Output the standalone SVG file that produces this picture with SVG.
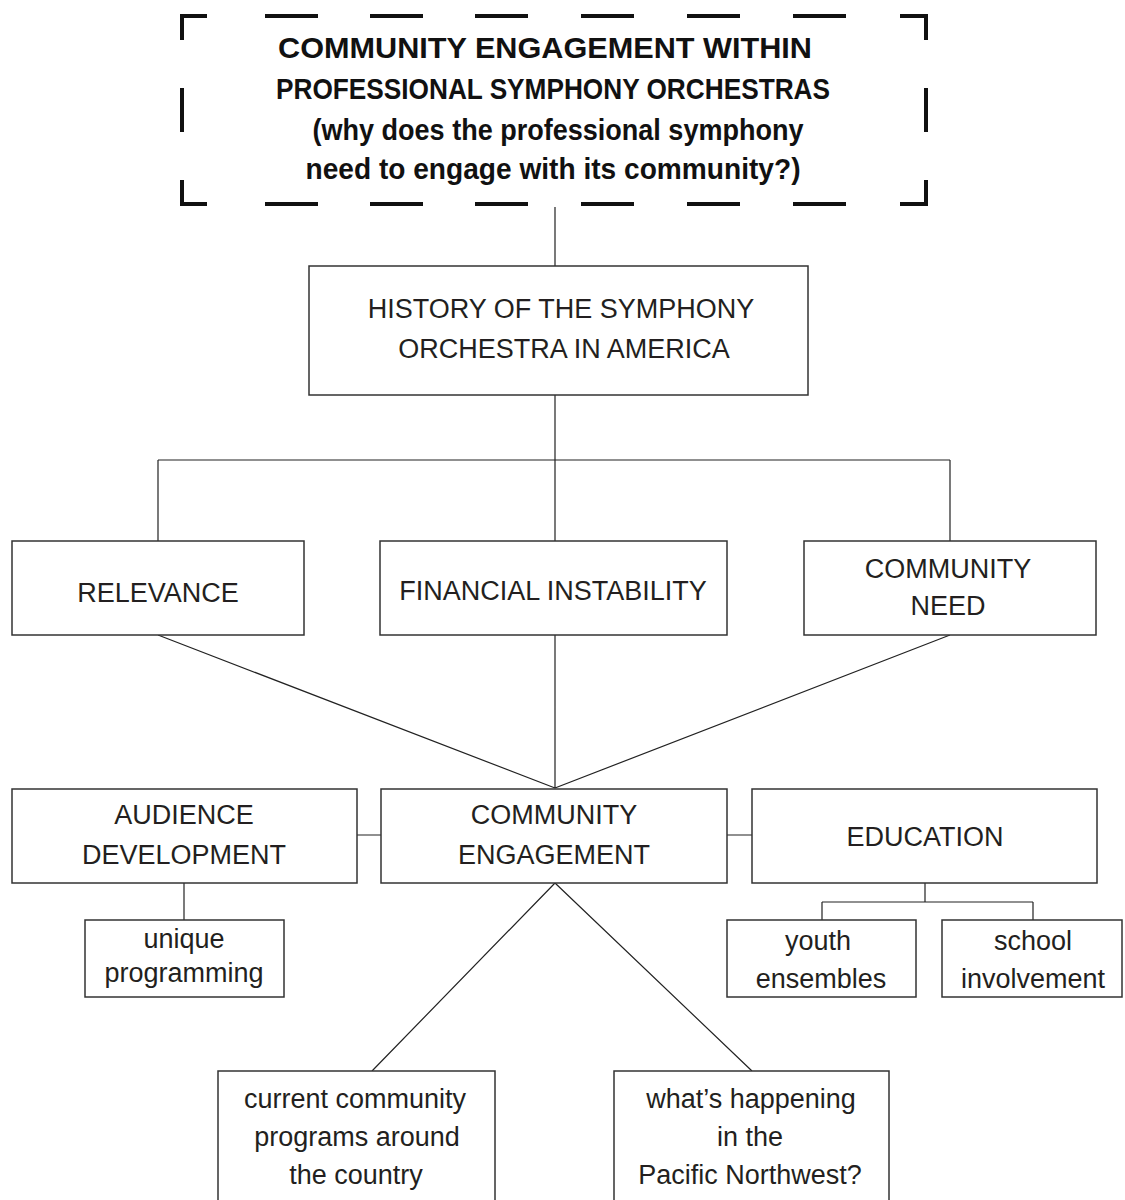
<svg xmlns="http://www.w3.org/2000/svg" width="1125" height="1200" viewBox="0 0 1125 1200">
<style>
.box{fill:#fff;stroke:#333;stroke-width:1.5}
.ln{fill:none;stroke:#222;stroke-width:1.2}
.dash{fill:none;stroke:#111;stroke-width:4}
.t{font-family:"Liberation Sans",Arial,sans-serif;font-size:27px;fill:#231f20;text-anchor:middle}
.tt{font-family:"Liberation Sans",Arial,sans-serif;font-size:30px;font-weight:bold;fill:#111;text-anchor:middle}
</style>
<rect width="1125" height="1200" fill="#fff"/>
<g id="connectors">
<path class="ln" d="M555 207V266M555 395V460M158 460H950M158 460V541M555 460V541M950 460V541"/>
<path class="ln" d="M158 635L555 788M555 635V788M950 635L555 788"/>
<path class="ln" d="M357 835H381M727 835H752"/>
<path class="ln" d="M184 883V920"/>
<path class="ln" d="M925 883V902M822 902H1033M822 902V920M1033 902V920"/>
<path class="ln" d="M555 883L372 1071M555 883L752 1071"/>
</g>
<g id="title">
<path class="dash" d="M182 40V16H207M265 16H318M370 16H423M475 16H528M581 16H634M687 16H740M793 16H846M900 16H926V40M926 88V132M926 180V204H900M846 204H793M740 204H687M634 204H581M528 204H475M423 204H370M318 204H265M207 204H182V180M182 132V88"/>
<text class="tt" x="545" y="58" textLength="534" lengthAdjust="spacingAndGlyphs">COMMUNITY ENGAGEMENT WITHIN</text>
<text class="tt" x="553" y="99" textLength="554" lengthAdjust="spacingAndGlyphs">PROFESSIONAL SYMPHONY ORCHESTRAS</text>
<text class="tt" x="558" y="140" textLength="491" lengthAdjust="spacingAndGlyphs">(why does the professional symphony</text>
<text class="tt" x="553" y="179" textLength="495" lengthAdjust="spacingAndGlyphs">need to engage with its community?)</text>
</g>
<g id="history">
<rect class="box" x="309" y="266" width="499" height="129"/>
<text class="t" x="561" y="318">HISTORY OF THE SYMPHONY</text>
<text class="t" x="564" y="358">ORCHESTRA IN AMERICA</text>
</g>
<g id="relevance">
<rect class="box" x="12" y="541" width="292" height="94"/>
<text class="t" x="158" y="602">RELEVANCE</text>
</g>
<g id="financial">
<rect class="box" x="380" y="541" width="347" height="94"/>
<text class="t" x="553" y="600">FINANCIAL INSTABILITY</text>
</g>
<g id="need">
<rect class="box" x="804" y="541" width="292" height="94"/>
<text class="t" x="948" y="578">COMMUNITY</text>
<text class="t" x="948" y="615">NEED</text>
</g>
<g id="audience">
<rect class="box" x="12" y="789" width="345" height="94"/>
<text class="t" x="184" y="824">AUDIENCE</text>
<text class="t" x="184" y="864">DEVELOPMENT</text>
</g>
<g id="engagement">
<rect class="box" x="381" y="789" width="346" height="94"/>
<text class="t" x="554" y="824">COMMUNITY</text>
<text class="t" x="554" y="864">ENGAGEMENT</text>
</g>
<g id="education">
<rect class="box" x="752" y="789" width="345" height="94"/>
<text class="t" x="925" y="846">EDUCATION</text>
</g>
<g id="unique">
<rect class="box" x="85" y="920" width="199" height="77"/>
<text class="t" x="184" y="948">unique</text>
<text class="t" x="184" y="982">programming</text>
</g>
<g id="youth">
<rect class="box" x="727" y="920" width="189" height="77"/>
<text class="t" x="818" y="950">youth</text>
<text class="t" x="821" y="988">ensembles</text>
</g>
<g id="school">
<rect class="box" x="942" y="920" width="180" height="77"/>
<text class="t" x="1033" y="950">school</text>
<text class="t" x="1033" y="988">involvement</text>
</g>
<g id="current">
<rect class="box" x="218" y="1071" width="277" height="140"/>
<text class="t" x="355" y="1108">current community</text>
<text class="t" x="357" y="1146">programs around</text>
<text class="t" x="356" y="1184">the country</text>
</g>
<g id="pnw">
<rect class="box" x="614" y="1071" width="275" height="140"/>
<text class="t" x="751" y="1108">what’s happening</text>
<text class="t" x="750" y="1146">in the</text>
<text class="t" x="750" y="1184">Pacific Northwest?</text>
</g>
</svg>
